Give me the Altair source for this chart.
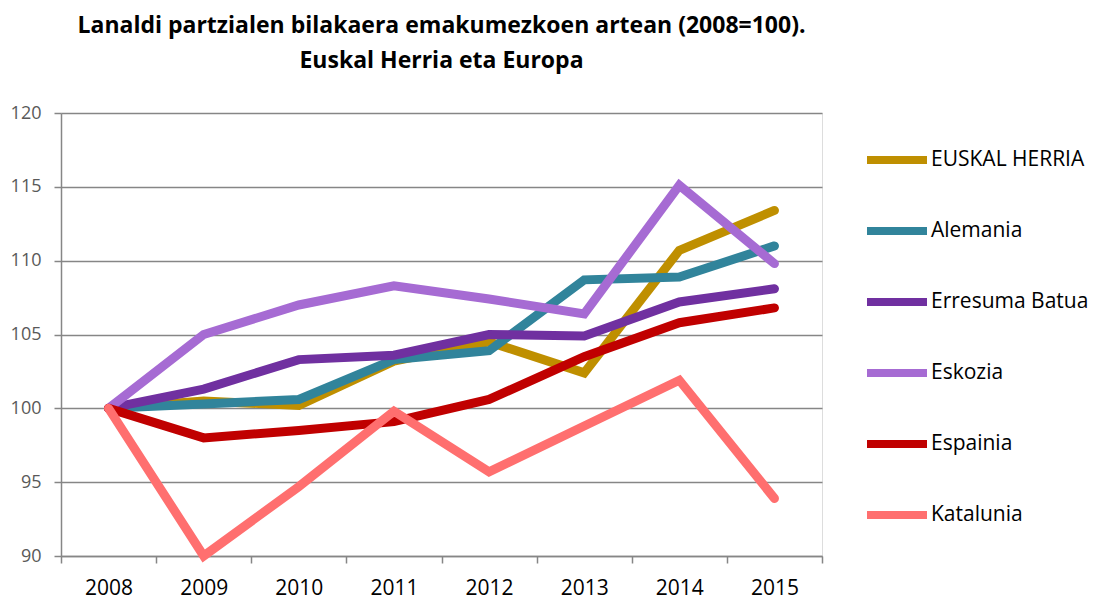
import altair as alt
import pandas as pd

years = ["2008", "2009", "2010", "2011", "2012", "2013", "2014", "2015"]
series_names = ["EUSKAL HERRIA", "Alemania", "Erresuma Batua", "Eskozia", "Espainia", "Katalunia"]
euskal_herria = [100, 100.5, 100.2, 103.2, 104.5, 102.4, 110.7, 113.4]
alemania = [100, 100.3, 100.6, 103.3, 103.9, 108.7, 108.9, 111.0]
erresuma_batua = [100, 101.3, 103.3, 103.6, 105.0, 104.9, 107.2, 108.1]
eskozia = [100, 105.0, 107.0, 108.3, 107.4, 106.4, 115.1, 109.8]
espainia = [100, 98.0, 98.5, 99.1, 100.6, 103.5, 105.8, 106.8]
katalunia = [100, 90.0, 94.7, 99.8, 95.7, 98.8, 101.9, 93.9]
colors = ["#BF8F00", "#31849B", "#7030A0", "#A66BD3", "#C00000", "#FF6F6F"]

values = [euskal_herria, alemania, erresuma_batua, eskozia, espainia, katalunia]
rows = []
for i, (name, vals) in enumerate(zip(series_names, values)):
    for y, v in zip(years, vals):
        rows.append({"urtea": y, "balioa": v, "seriea": name, "ord": i})
df = pd.DataFrame(rows)

FONT = "Open Sans"

chart = alt.Chart(df).mark_line(strokeWidth=9, strokeCap="round").encode(
    x=alt.X("urtea:O", sort=years, title=None, bandPosition=0.5,
            scale=alt.Scale(type="band", paddingInner=0, paddingOuter=0),
            axis=alt.Axis(labelAngle=0, labelFontSize=21, labelColor="#000000",
                          labelFont=FONT, tickBand="extent", tickSize=7,
                          tickColor="#868686", tickWidth=1.5, domainColor="#868686",
                          domainWidth=1.5, labelPadding=14, grid=False)),
    y=alt.Y("balioa:Q", title=None,
            scale=alt.Scale(domain=[90, 120], nice=False, zero=False),
            axis=alt.Axis(values=[90, 95, 100, 105, 110, 115, 120], labelFontSize=18,
                          labelColor="#595959", labelFont=FONT, tickSize=7,
                          tickColor="#868686", tickWidth=1.5, domainColor="#868686",
                          domainWidth=1.5, gridColor="#868686", gridWidth=1.5,
                          labelPadding=13)),
    color=alt.Color("seriea:N", sort=series_names,
                    scale=alt.Scale(domain=series_names, range=colors),
                    legend=alt.Legend(title=None, orient="none", legendX=802, legendY=13,
                                      symbolType="stroke", symbolSize=3600,
                                      symbolStrokeWidth=8, labelFontSize=21,
                                      labelFont=FONT, labelColor="#000000",
                                      rowPadding=21, labelOffset=0, labelLimit=300)),
    order=alt.Order("ord:Q"),
).properties(
    width=761,
    height=443,
    padding={"left": 53, "top": 105, "right": 275, "bottom": 48},
    autosize=alt.AutoSizeParams(type="none"),
    title=alt.TitleParams(
        text=["Lanaldi partzialen bilakaera emakumezkoen artean (2008=100).",
              "Euskal Herria eta Europa"],
        fontSize=23, font=FONT, fontWeight="bold", color="#000000",
        anchor="middle", frame="group", offset=31, lineHeight=35),
).configure_view(stroke=None).configure(background="#FFFFFF")

chart.save("out.html", embed_options={"renderer": "svg", "actions": False})
